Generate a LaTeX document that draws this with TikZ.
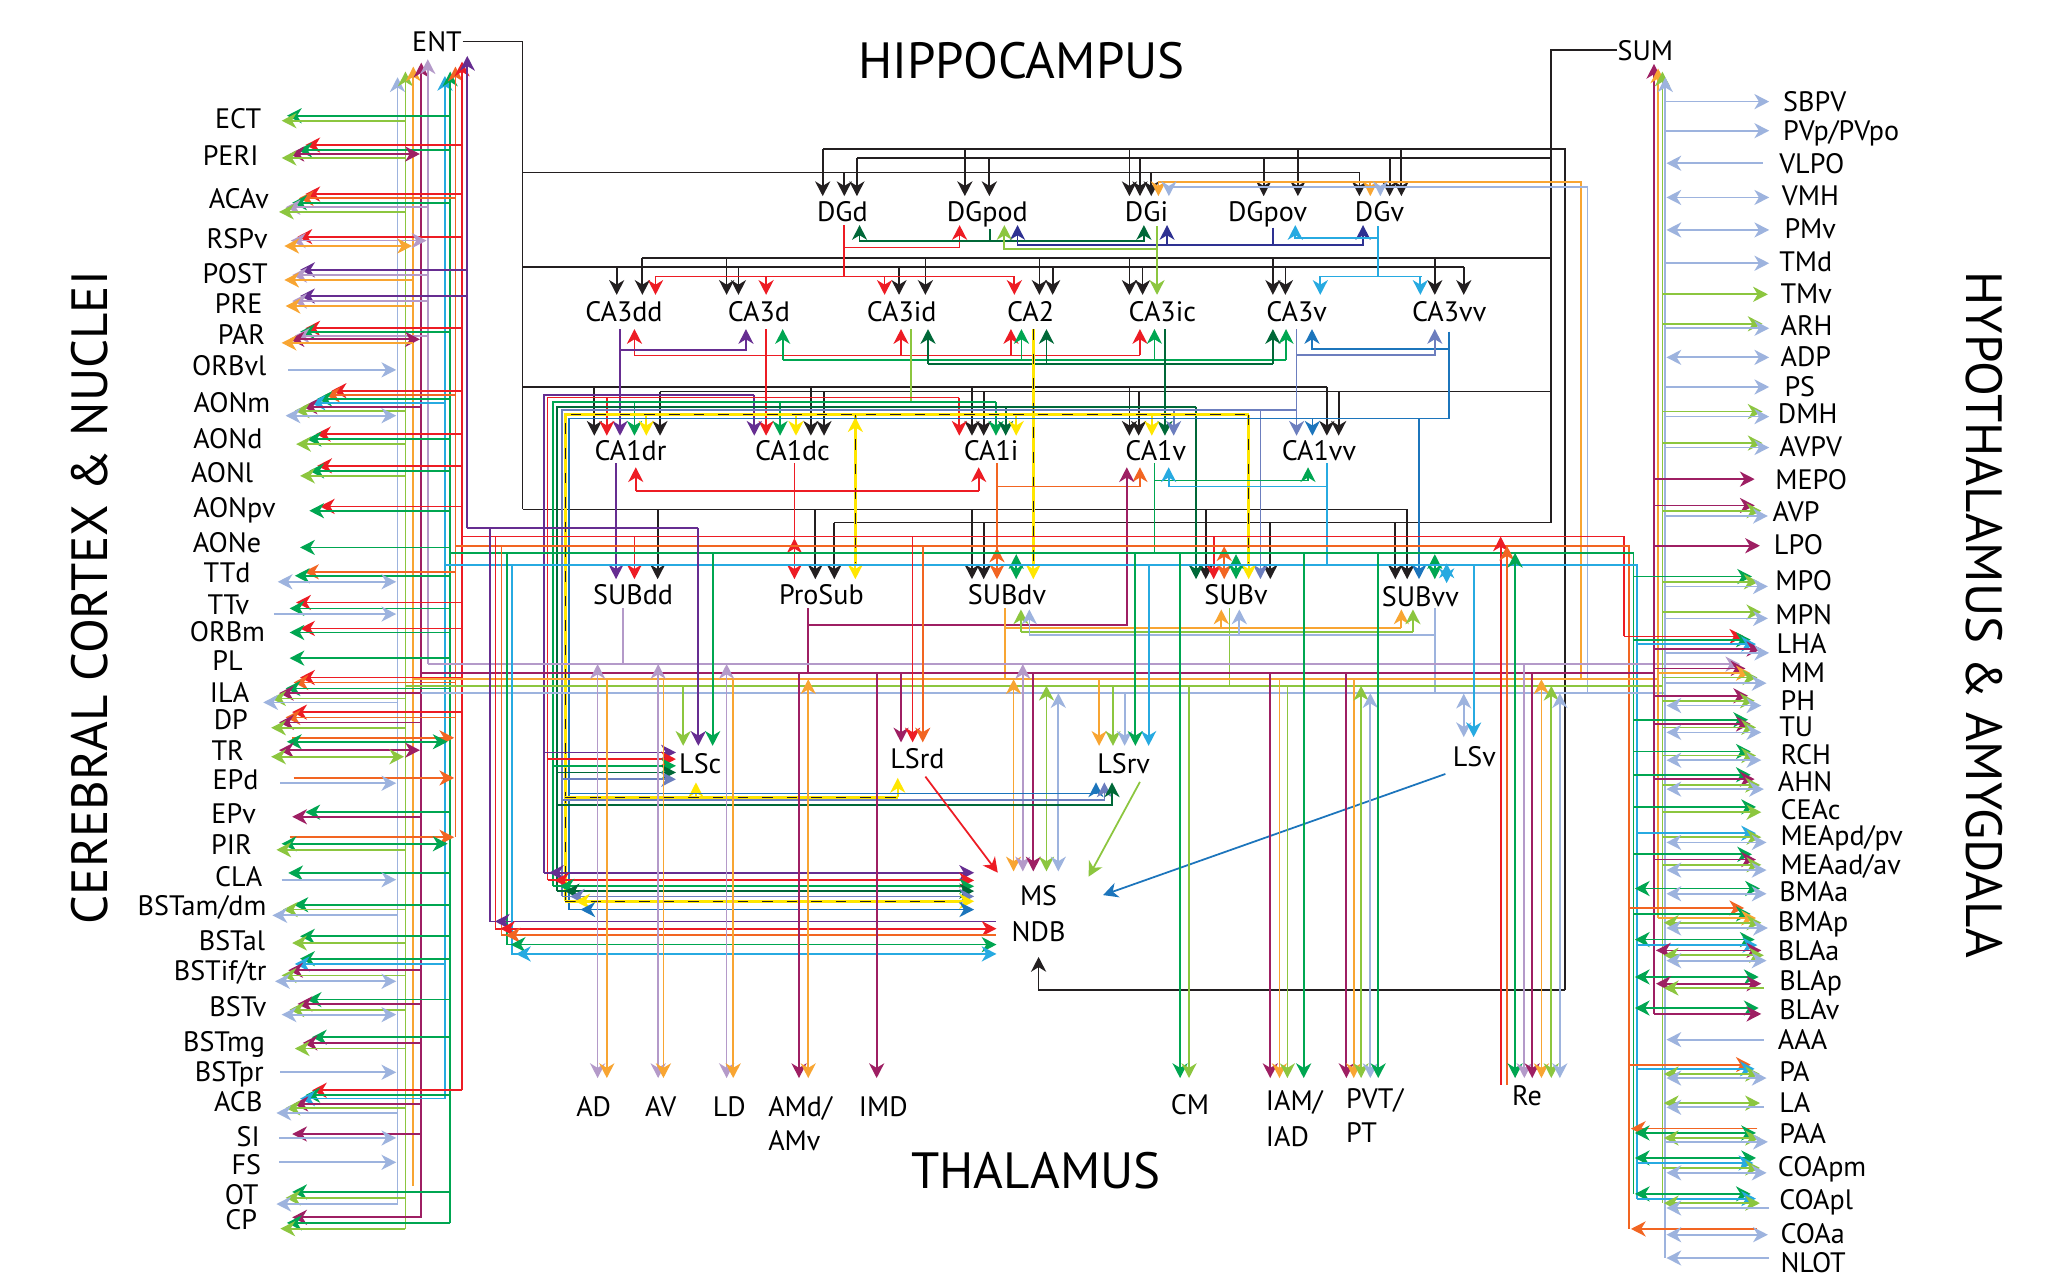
\documentclass[tikz,border=0pt]{standalone}
\usepackage{fontspec}
\setmainfont{PT Sans}
\usetikzlibrary{arrows.meta}
\definecolor{cLB}{HTML}{9DB3DE}
\definecolor{cLG}{HTML}{8CC63F}
\definecolor{cOR}{HTML}{F8A532}
\definecolor{cMG}{HTML}{9E1F63}
\definecolor{cLV}{HTML}{B49AC9}
\definecolor{cCY}{HTML}{27AAE1}
\definecolor{cGR}{HTML}{00A651}
\definecolor{cOE}{HTML}{F26522}
\definecolor{cRD}{HTML}{ED1C24}
\definecolor{cPU}{HTML}{662D91}
\definecolor{cDG}{HTML}{006838}
\definecolor{cNV}{HTML}{2E3192}
\definecolor{cBL}{HTML}{1C75BC}
\definecolor{cSB}{HTML}{6C7EBE}
\definecolor{cYE}{HTML}{FFE600}
\definecolor{cBK}{HTML}{231F20}
\newcommand\HA[4]{\draw[#1,->] (#2,#3) -- (#4,#3);}
\newcommand\HB[4]{\draw[#1,<->] (#2,#3) -- (#4,#3);}
\newcommand\VA[4]{\draw[#1,->] (#2,#3) -- (#2,#4);}
\newcommand\VB[4]{\draw[#1,<->] (#2,#3) -- (#2,#4);}
\newcommand\VN[4]{\draw[#1] (#2,#3) -- (#2,#4);}
\newcommand\YD[1]{\draw[cYE,line width=0.9pt] #1; \draw[cBK,line width=0.4pt,dash pattern=on 3pt off 4pt] #1;}
\newcommand\LL[4]{\node[lab,anchor=base east] (#1) at (#3,#4) {#2};}
\newcommand\RL[4]{\node[lab,anchor=base west] (#1) at (#3,#4) {#2};}
\newcommand\CL[4]{\node[lab,anchor=base] (#1) at (#3,#4) {#2};}
\begin{document}
\begin{tikzpicture}[x=0.013163cm,y=-0.013163cm,line width=0.5pt,
  >={Stealth[length=4.2pt,width=4.3pt,inset=1.3pt]},
  lab/.style={font=\fontsize{8}{9}\selectfont,inner sep=0pt},
  ttl/.style={font=\fontsize{14.5}{16}\selectfont,inner sep=0pt}]
\useasboundingbox[fill=white] (0,0) rectangle (1568,978);

% ---------------- titles
\node[ttl,anchor=base] (hip) at (776,60) {HIPPOCAMPUS};
\node[ttl,anchor=base] (thal) at (787,902.6) {THALAMUS};
\node[ttl,rotate=90] (ctx) at (68,454) {CEREBRAL CORTEX \& NUCLEI};
\node[ttl,rotate=-90] (hyp) at (1507.7,467) {HYPOTHALAMUS \& AMYGDALA};

% ---------------- left labels
\LL{ECT}{ECT}{199}{97.5}
\LL{PERI}{PERI}{197}{125.5}
\LL{ACAv}{ACAv}{205}{158.5}
\LL{RSPv}{RSPv}{204}{188.5}
\LL{POST}{POST}{204}{215}
\LL{PRE}{PRE}{200}{238}
\LL{PAR}{PAR}{202}{262}
\LL{ORBvl}{ORBvl}{203}{285}
\LL{AONm}{AONm}{206}{313}
\LL{AONd}{AONd}{200}{340.5}
\LL{AONl}{AONl}{193}{366.3}
\LL{AONpv}{AONpv}{210}{393.5}
\LL{AONe}{AONe}{199}{420}
\LL{TTd}{TTd}{191}{442.3}
\LL{TTv}{TTv}{190}{466.8}
\LL{ORBm}{ORBm}{202}{487.7}
\LL{PL}{PL}{185}{509.5}
\LL{ILA}{ILA}{190}{533.8}
\LL{DP}{DP}{189}{554.3}
\LL{TR}{TR}{186}{578}
\LL{EPd}{EPd}{197}{600}
\LL{EPv}{EPv}{195}{625.7}
\LL{PIR}{PIR}{192}{648.8}
\LL{CLA}{CLA}{200}{673.5}
\LL{BSTam}{BSTam/dm}{203}{695.5}
\LL{BSTal}{BSTal}{202}{722}
\LL{BSTif}{BSTif/tr}{203}{745}
\LL{BSTv}{BSTv}{203}{772.5}
\LL{BSTmg}{BSTmg}{202}{799}
\LL{BSTpr}{BSTpr}{201}{821.5}
\LL{ACB}{ACB}{200}{844.2}
\LL{SI}{SI}{198}{871}
\LL{FS}{FS}{199}{892.5}
\LL{OT}{OT}{197}{915}
\LL{CP}{CP}{196}{934}

% ---------------- right labels
\RL{SBPV}{SBPV}{1354}{84.5}
\RL{PVp}{PVp/PVpo}{1354}{106.5}
\RL{VLPO}{VLPO}{1351}{131.5}
\RL{VMH}{VMH}{1353}{156.5}
\RL{PMv}{PMv}{1355}{181.5}
\RL{TMd}{TMd}{1351}{206.5}
\RL{TMv}{TMv}{1352}{230.5}
\RL{ARH}{ARH}{1352}{255}
\RL{ADP}{ADP}{1352}{278.5}
\RL{PS}{PS}{1355}{301.5}
\RL{DMH}{DMH}{1350}{321.5}
\RL{AVPV}{AVPV}{1351}{346.5}
\RL{MEPO}{MEPO}{1348}{371.5}
\RL{AVP}{AVP}{1346}{396.5}
\RL{LPO}{LPO}{1347}{421.5}
\RL{MPO}{MPO}{1348}{448.5}
\RL{MPN}{MPN}{1348}{474.5}
\RL{LHA}{LHA}{1349}{496.5}
\RL{MM}{MM}{1352}{518.5}
\RL{PH}{PH}{1352}{540}
\RL{TU}{TU}{1351}{559.5}
\RL{RCH}{RCH}{1352}{581}
\RL{AHN}{AHN}{1350}{601.5}
\RL{CEAc}{CEAc}{1352}{622.5}
\RL{MEApd}{MEApd/pv}{1352}{642.5}
\RL{MEAad}{MEAad/av}{1352}{664.5}
\RL{BMAa}{BMAa}{1351}{684.5}
\RL{BMAp}{BMAp}{1350}{707.5}
\RL{BLAa}{BLAa}{1350}{729.5}
\RL{BLAp}{BLAp}{1351}{752.5}
\RL{BLAv}{BLAv}{1351}{774.5}
\RL{AAA}{AAA}{1350}{797.5}
\RL{PA}{PA}{1351}{821.5}
\RL{LA}{LA}{1351}{845.5}
\RL{PAA}{PAA}{1351}{868.5}
\RL{COApm}{COApm}{1350}{893.5}
\RL{COApl}{COApl}{1351}{919}
\RL{COAa}{COAa}{1352}{944.5}
\RL{NLOT}{NLOT}{1352}{967}

% ---------------- hippocampal / septal / thalamic labels
\CL{ENT}{ENT}{332}{39}
\CL{SUM}{SUM}{1250}{45.6}
\CL{DGd}{DGd}{640}{168}
\CL{DGpod}{DGpod}{750}{168}
\CL{DGi}{DGi}{871}{168}
\CL{DGpov}{DGpov}{963}{168}
\CL{DGv}{DGv}{1048}{168}
\CL{CAtdd}{CA3dd}{474}{244.6}
\CL{CAtd}{CA3d}{576.6}{244.6}
\CL{CAtid}{CA3id}{685}{244.6}
\CL{CAtwo}{CA2}{783}{244.6}
\CL{CAtic}{CA3ic}{883}{244.6}
\CL{CAtv}{CA3v}{985}{244.6}
\CL{CAtvv}{CA3vv}{1101}{244.6}
\CL{CAodr}{CA1dr}{479}{350}
\CL{CAodc}{CA1dc}{602}{350}
\CL{CAoi}{CA1i}{753}{350}
\CL{CAov}{CA1v}{878}{350}
\CL{CAovv}{CA1vv}{1002}{350}
\CL{SUBdd}{SUBdd}{481}{459}
\CL{ProSub}{ProSub}{624}{459}
\CL{SUBdv}{SUBdv}{765}{459}
\CL{SUBv}{SUBv}{939}{459}
\CL{SUBvv}{SUBvv}{1079}{461}
\CL{LSc}{LSc}{532}{588}
\CL{LSrd}{LSrd}{697}{584}
\CL{LSrv}{LSrv}{853.6}{588}
\CL{LSv}{LSv}{1120}{582}
\CL{MS}{MS}{789}{688}
\CL{NDB}{NDB}{789}{715}
\CL{AD}{AD}{451}{848}
\CL{AV}{AV}{502}{848}
\CL{LD}{LD}{554}{848}
\node[lab,anchor=base west] (AMd) at (583,848) {AMd/};
\node[lab,anchor=base west] (AMv) at (583,874) {AMv};
\CL{IMD}{IMD}{671}{848}
\CL{CM}{CM}{904}{847}
\node[lab,anchor=base west] (IAM) at (961,844) {IAM/};
\node[lab,anchor=base west] (IAD) at (961,871) {IAD};
\node[lab,anchor=base west] (PVT) at (1022,842) {PVT/};
\node[lab,anchor=base west] (PT) at (1022,868) {PT};
\CL{Re}{Re}{1160}{840}

% ---------------- black ENT / SUM wiring
\draw[cBK] (ENT.east) -| (397,387);
\draw[cBK] (397,131) -- (1032.7,131);
\VA{cBK}{641.4}{131}{149} \VA{cBK}{874.6}{131}{149} \VA{cBK}{1032.7}{131}{149}
\draw[cBK] (397,203) -- (1112,203);
\VA{cBK}{468.5}{203}{224} \VA{cBK}{561}{203}{224} \VA{cBK}{683}{203}{224} \VA{cBK}{799.7}{203}{224}
\VA{cBK}{868}{203}{224} \VA{cBK}{976.5}{203}{224} \VA{cBK}{1112}{203}{224}
\draw[cBK] (397,294) -- (1008,294);
\VA{cBK}{451.5}{294}{331} \VA{cBK}{616}{294}{331} \VA{cBK}{738.4}{294}{331} \VA{cBK}{858}{294}{331} \VA{cBK}{1008}{294}{331}
\draw[cBK] (397,387) -- (1069,387);
\VA{cBK}{499.6}{387}{440} \VA{cBK}{619.4}{387}{440} \VA{cBK}{738.4}{387}{440} \VA{cBK}{916}{387}{440} \VA{cBK}{1069}{387}{440}
\draw[cBK] (SUM.west) -| (1178,397);
\draw[cBK] (1178,120) -- (651,120);
\VA{cBK}{651}{120}{149} \VA{cBK}{751.6}{120}{149} \VA{cBK}{866}{120}{149} \VA{cBK}{960}{120}{149} \VA{cBK}{1055.7}{120}{149}
\draw[cBK] (1189,752) -- (1189,113) -- (625,113);
\VA{cBK}{625}{113}{149} \VA{cBK}{733}{113}{149} \VA{cBK}{858}{113}{149} \VA{cBK}{986}{113}{149} \VA{cBK}{1064.6}{113}{149}
\draw[cBK] (1178,196) -- (488,196);
\VA{cBK}{488}{196}{224} \VA{cBK}{552}{196}{224} \VA{cBK}{703}{196}{224} \VA{cBK}{789.6}{196}{224}
\VA{cBK}{858}{196}{224} \VA{cBK}{967}{196}{224} \VA{cBK}{1090}{196}{224}
\draw[cBK] (1178,297.5) -- (501.4,297.5);
\VA{cBK}{501.4}{297.5}{331} \VA{cBK}{626}{297.5}{331} \VA{cBK}{747.3}{297.5}{331} \VA{cBK}{865}{297.5}{331} \VA{cBK}{1017}{297.5}{331}
\draw[cBK] (1178,397) -- (633.8,397);
\VA{cBK}{633.8}{397}{440} \VA{cBK}{747.3}{397}{440} \VA{cBK}{965}{397}{440} \VA{cBK}{1060}{397}{440}
\draw[cBK,->] (1189,752) -- (789,752) -- (NDB.south |- 0,727);

% ---------------- dentate gyrus
\draw[cRD] (641,171) -- (641,210);
\draw[cRD,->] (641,188) -| (729,171);
\draw[cRD] (498,210) -- (770.6,210);
\VA{cRD}{498}{210}{224} \VA{cRD}{582}{210}{224} \VA{cRD}{672}{210}{224} \VA{cRD}{770.6}{210}{224}
\draw[cDG] (752,174) -- (752,183);
\draw[cDG,->] (752,183) -| (653,171);
\draw[cDG,->] (752,183) -| (869,171);
\draw[cNV] (967,173) -- (967,186);
\draw[cNV,->] (967,186) -| (773,171);
\draw[cNV,->] (967,186) -| (886.6,171);
\draw[cNV,->] (967,186) -| (1035.5,171);
\draw[cLG,->] (879,172) -- (879,224);
\draw[cLG,->] (879,189) -| (763,171);
\draw[cCY] (1047,172) -- (1047,210);
\draw[cCY,->] (1047,181) -| (984,171);
\draw[cCY] (1003,210) -- (1080,210);
\VA{cCY}{1003}{210}{224} \VA{cCY}{1079}{210}{224}
\draw[cOR] (880,138) -- (1201,138) -- (1201,516);
\VA{cOR}{880}{138}{149} \VA{cOR}{1041}{138}{149}
\draw[cLB] (888,141.8) -- (1206,141.8) -- (1206,526.6);
\VA{cLB}{888}{141.8}{149} \VA{cLB}{1048.6}{141.8}{149}

% ---------------- CA3 outputs
\draw[cRD] (482,270) -- (866,270);
\VA{cRD}{482}{270}{250} \VA{cRD}{684.5}{270}{250} \VA{cRD}{768}{270}{250} \VA{cRD}{866}{270}{250}
\draw[cPU,->] (471,250) -- (471,331);
\draw[cPU,->] (471,266) -| (566.7,250);
\draw[cGR] (594.6,273.5) -- (977,273.5);
\VA{cGR}{594.6}{273.5}{250} \VA{cGR}{776}{273.5}{250} \VA{cGR}{877}{273.5}{250} \VA{cGR}{977}{273.5}{250}
\draw[cDG] (885,250) -- (885,309);
\draw[cDG] (705,276.5) -- (967,276.5);
\VA{cDG}{705}{276.5}{250} \VA{cDG}{795}{276.5}{250} \VA{cDG}{967}{276.5}{250}
\VN{cLG}{692}{250}{305.6}
\draw[cBL] (1100.5,252) -- (1100.5,318);
\draw[cBL,->] (1100.5,265) -| (996.7,250);
\draw[cSB,->] (985,250) -- (985,331);
\draw[cSB,->] (985,269.7) -| (1090,250);
\draw[cRD,->] (582,250) -- (582,331);
\YD{(785,250) -- (785,430)}
\draw[cYE,->] (785,428) -- (785,440);

% ---------------- CA1 inputs (bundle)
\draw[cPU] (413.5,663) -- (413.5,300) -- (573,300);
\VA{cPU}{573}{300}{331}
\draw[cRD] (416,668.8) -- (416,302) -- (728.8,302);
\VA{cRD}{461}{302}{331} \VA{cRD}{728.8}{302}{331}
\draw[cGR] (420,673.3) -- (420,305.6) -- (756.6,305.6);
\VA{cGR}{482}{305.6}{331} \VA{cGR}{592.6}{305.6}{331} \VA{cGR}{756.6}{305.6}{331}
\draw[cDG] (423,677) -- (423,309) -- (908.6,309);
\VA{cDG}{764}{309}{331} \VA{cDG}{885}{309}{331} \VA{cDG}{908.6}{309}{440}
\draw[cSB] (427,681) -- (427,311.5) -- (985,311.5);
\VA{cSB}{891.6}{311.5}{331} \VA{cSB}{957.5}{311.5}{440}
\YD{(429.5,684.7) -- (429.5,315) -- (948.6,315)}
\VA{cYE}{491}{315}{331} \VA{cYE}{604.7}{315}{331} \VA{cYE}{772}{315}{331} \VA{cYE}{875}{315}{331}
\YD{(649.8,315) -- (649.8,430)}
\draw[cYE,->] (649.8,428) -- (649.8,440);
\draw[cYE,->] (649.8,330) -- (649.8,317);
\YD{(948.6,315) -- (948.6,430)}
\draw[cYE,->] (948.6,428) -- (948.6,440);
\draw[cBL] (432,691) -- (432,318) -- (1100.5,318);
\VA{cBL}{997}{318}{331} \VA{cBL}{1078}{318}{440}

% ---------------- CA1 outputs
\draw[cRD] (483,372.8) -- (743.5,372.8);
\VA{cRD}{483}{372.8}{355} \VA{cRD}{743.5}{372.8}{355}
\draw[cPU,->] (468,352) -- (468,440);
\draw[cRD,->] (603.5,352) -- (603.5,440);
\draw[cRD,->] (603.5,425) -- (603.5,409);
\draw[cOE,->] (757.4,352) -- (757.4,440);
\draw[cOE,->] (757.4,369.6) -| (866,355);
\draw[cOE,->] (757.4,430) -- (757.4,416);
\draw[cMG] (613.6,462) -- (613.6,511);
\draw[cMG,->] (613.6,475) -| (856,355);
\draw[cGR] (877,352) -- (877,420);
\draw[cGR,->] (877,365) -| (993.7,355);
\draw[cCY] (1008,352) -- (1008,429);
\draw[cCY,->] (1008,369.6) -| (887.8,355);

% ---------------- subiculum inputs from bands
\VA{cRD}{482}{407.6}{440}
\VB{cGR}{772}{421}{440}
\VA{cRD}{922}{407.6}{440}
\VB{cOE}{930}{415}{440}
\VB{cGR}{939}{421}{440}
\VB{cGR}{1090}{421}{440}
\VB{cCY}{1099}{428}{443}

% ---------------- subiculum outputs
\VN{cLV}{473}{462}{504.5}
\VN{cOR}{763.7}{462}{516}
\draw[cOR] (763.7,477) -- (1064.6,477);
\VA{cOR}{927.8}{477}{463} \VA{cOR}{1064.6}{477}{463}
\draw[cLG] (934,462) -- (934,521);
\draw[cLG] (775.6,480) -- (1073.4,480);
\VA{cLG}{775.6}{480}{463} \VA{cLG}{1073.4}{480}{463}
\draw[cLB] (1090,462) -- (1090,526.6);
\draw[cLB] (782,482.5) -- (1090,482.5);
\VA{cLB}{782}{482.5}{463} \VA{cLB}{941.5}{482.5}{463}

% ---------------- left cortical buses
\draw[cLB,<-] (302,58.7) -- (302,915);
\draw[cLG,<-] (308,54.4) -- (308,934);
\draw[cOR,<-] (314,50.6) -- (314,901);
\draw[cMG,<-] (320,47.6) -- (320,925);
\draw[cLV,<-] (325,45) -- (325,504.5);
\draw[cCY,<-] (338,57.7) -- (338,834.6);
\draw[cGR,<-] (342,54.4) -- (342,929);
\draw[cOE,<-] (346,50.6) -- (346,636);
\draw[cRD,<-] (351,46.8) -- (351,828.3);
\draw[cPU,<-] (355,42.5) -- (355,401);

% ---------------- horizontal bands
\draw[cPU] (355,401) -- (530.5,401);
\draw[cRD] (351,407.6) -- (1233.7,407.6) -- (1233.7,483.5);
\draw[cOE] (346,414.6) -- (1237.6,414.6) -- (1237.6,933.6);
\draw[cGR] (342,420) -- (1241,420) -- (1241,907);
\draw[cCY] (338,429) -- (1243.5,429) -- (1243.5,910.6);
\draw[cLV,->] (325,504.5) -- (1322,504.5);
\draw[cMG] (320,511) -- (1256.5,511);
\draw[cOR] (314,516) -- (1259.6,516);
\draw[cLG] (308,521) -- (1262.9,521);
\draw[cLB] (302,526.6) -- (1265.1,526.6);

% ---------------- right SUM buses
\draw[cMG,<-] (1256.5,48.6) -- (1256.5,770.3);
\draw[cOR,<-] (1259.6,52) -- (1259.6,697.4);
\draw[cLG,<-] (1262.9,54.4) -- (1262.9,914);
\draw[cLB,<-] (1265.1,58.7) -- (1265.1,955.7);

% ---------------- left label connectors
\HA{cGR}{342}{87.9}{218} \HA{cLG}{308}{91.7}{214}
\HA{cRD}{351}{110.2}{232} \HA{cGR}{342}{114}{226} \HB{cMG}{220}{117}{319} \HA{cLG}{308}{120}{214}
\HA{cRD}{351}{147.4}{232} \HA{cOE}{346}{150.7}{227} \HA{cGR}{342}{154}{222} \HA{cLV}{325}{157.5}{217} \HA{cLG}{308}{161}{212}
\HA{cRD}{351}{179.8}{226} \HB{cLV}{221}{182.8}{324} \HB{cOR}{216}{186.9}{313}
\HA{cPU}{355}{205}{228} \HA{cLV}{325}{209}{222} \HA{cOR}{314}{212.7}{216}
\HA{cPU}{355}{224.9}{228} \HA{cLV}{325}{228.7}{222} \HA{cOR}{314}{232.5}{217}
\HA{cRD}{351}{249.4}{232} \HA{cGR}{342}{252}{228} \HA{cLV}{325}{255}{224} \HB{cMG}{220}{257.8}{319} \HA{cOR}{314}{260.5}{214}
\HA{cLB}{219}{281}{301}
\HA{cRD}{351}{296.8}{252} \HA{cOE}{346}{300}{247} \HA{cGR}{342}{303}{241} \HA{cCY}{338}{306}{236} \HA{cMG}{320}{309}{230} \HA{cLG}{308}{312}{224} \HB{cLB}{217}{315.8}{301}
\HA{cRD}{351}{329.8}{240} \HA{cGR}{342}{333.6}{233} \HA{cLG}{308}{337.4}{225}
\HA{cRD}{351}{353.9}{241} \HA{cGR}{342}{357.7}{235} \HA{cLG}{308}{361.5}{228}
\HA{cRD}{351}{384.7}{243} \HA{cGR}{342}{388}{235}
\HA{cGR}{342}{415.9}{228}
\HA{cOE}{346}{434.4}{231} \HA{cGR}{342}{437.4}{224} \HB{cLB}{211}{442}{301}
\HA{cRD}{351}{457.7}{225} \HA{cGR}{342}{462.2}{220} \HA{cLB}{208}{466.5}{301}
\HA{cRD}{351}{477.4}{228} \HA{cGR}{342}{480.5}{220}
\HA{cGR}{342}{500}{220}
\HA{cRD}{351}{514.7}{228} \HA{cOE}{346}{518.5}{223} \HA{cGR}{342}{523}{217} \HA{cMG}{320}{526.6}{212} \HA{cLG}{308}{530.6}{206} \HA{cLB}{302}{533.6}{200}
\HA{cRD}{351}{541}{222} \HA{cOE}{346}{545}{217} \HA{cMG}{320}{548.8}{212} \HA{cLG}{308}{552.9}{206}
\HA{cOE}{222}{560.5}{345} \HB{cGR}{218}{563.5}{340} \HB{cMG}{212}{569.9}{319} \HB{cLG}{206}{574.9}{307}
\HA{cOE}{223}{591}{345} \HA{cLB}{213}{595}{301}
\HA{cGR}{342}{617}{232} \HA{cMG}{320}{620.5}{222}
\HA{cOE}{220}{636}{345} \HB{cGR}{214}{641}{340} \HA{cLG}{308}{645.6}{210}
\HA{cGR}{342}{663.2}{219} \HA{cLB}{214}{668.3}{301}
\HA{cGR}{342}{687.3}{223} \HA{cLG}{308}{691}{215} \HA{cLB}{302}{695.4}{207}
\HA{cGR}{342}{711.3}{228} \HA{cLG}{308}{716.4}{222}
\HA{cGR}{342}{728.3}{228} \HA{cCY}{338}{732.3}{224} \HA{cMG}{320}{737.1}{219} \HA{cLG}{308}{741}{214} \HB{cLB}{209}{745.5}{301}
\HA{cGR}{342}{759.4}{233} \HA{cMG}{320}{762.7}{226} \HA{cLG}{308}{767}{220} \HB{cLB}{214}{770.8}{301}
\HA{cGR}{342}{788}{237} \HA{cMG}{320}{792.3}{230} \HA{cLG}{308}{796.6}{224}
\HA{cLB}{213}{814.6}{301}
\HA{cRD}{351}{828.3}{237} \HA{cGR}{342}{832}{232} \HA{cCY}{338}{834.6}{228} \HA{cMG}{320}{838.7}{223} \HA{cLG}{308}{841.7}{217} \HA{cLB}{302}{845.5}{210}
\HA{cMG}{320}{861.5}{222} \HA{cLB}{212}{864.5}{301}
\HA{cLB}{212}{883}{301}
\HA{cGR}{342}{905.5}{222} \HA{cLG}{308}{910}{217} \HA{cLB}{302}{914.7}{210}
\HA{cMG}{320}{924.8}{222} \HA{cGR}{342}{929}{218} \HA{cLG}{308}{933.4}{213}

% ---------------- right label connectors
\HA{cLB}{1265.1}{77.2}{1344}
\HA{cLB}{1265.1}{99.3}{1344}
\HA{cLB}{1339}{124}{1266}
\HB{cLB}{1266}{150}{1344}
\HB{cLB}{1266}{174.7}{1344}
\HA{cLB}{1265.1}{200}{1344}
\HA{cLG}{1262.9}{223.6}{1343}
\HA{cLG}{1262.9}{246}{1339} \HA{cLB}{1265.1}{249.4}{1344}
\HB{cLB}{1266}{271.5}{1344}
\HA{cLB}{1265.1}{294}{1344}
\HA{cLG}{1262.9}{312.7}{1339} \HA{cLB}{1265.1}{316.5}{1344}
\HA{cLG}{1262.9}{336.6}{1339} \HA{cLB}{1265.1}{340}{1344}
\HA{cMG}{1256.5}{364}{1333}
\HA{cMG}{1256.5}{384}{1333} \HA{cLG}{1262.9}{388}{1338} \HA{cLB}{1265.1}{392}{1343}
\HA{cMG}{1256.5}{414.6}{1337}
\HA{cGR}{1241}{438}{1331} \HA{cLG}{1262.9}{442}{1336} \HA{cLB}{1265.1}{445.5}{1343}
\HA{cLG}{1262.9}{465}{1338} \HA{cLB}{1265.1}{469.8}{1343}
\HA{cRD}{1233.7}{483.5}{1325} \HA{cGR}{1241}{486}{1330} \HA{cCY}{1243.5}{489.3}{1334} \HA{cMG}{1256.5}{493}{1338} \HA{cLB}{1265.1}{496}{1344}
\HA{cMG}{1256.5}{507.8}{1326} \HA{cOR}{1259.6}{511.4}{1330} \HA{cLG}{1262.9}{514.7}{1335} \HA{cLB}{1265.1}{519}{1342}
\HA{cMG}{1256.5}{528.6}{1328} \HA{cLG}{1262.9}{532.4}{1333} \HB{cLB}{1266}{536}{1338}
\HA{cGR}{1241}{546.8}{1328} \HA{cMG}{1256.5}{550}{1330} \HA{cLG}{1262.9}{552.6}{1334} \HB{cLB}{1266}{556.4}{1338}
\HA{cGR}{1241}{570.9}{1330} \HA{cLG}{1262.9}{574}{1334} \HB{cLB}{1266}{577.5}{1338}
\HA{cGR}{1241}{588.6}{1330} \HA{cMG}{1256.5}{591.9}{1333} \HA{cLG}{1262.9}{596.4}{1337} \HB{cLB}{1266}{599.5}{1340}
\HA{cGR}{1241}{613}{1334} \HA{cLG}{1262.9}{617}{1338}
\HA{cCY}{1243.5}{633}{1334} \HA{cLG}{1262.9}{636}{1338} \HB{cLB}{1266}{640}{1342}
\HA{cGR}{1241}{649}{1331} \HA{cMG}{1256.5}{653}{1334} \HA{cLG}{1262.9}{657}{1338} \HB{cLB}{1266}{661}{1342}
\HB{cGR}{1242}{675}{1337} \HB{cLB}{1266}{679}{1342}
\HA{cOE}{1237.6}{689.8}{1325} \HA{cGR}{1241}{694.3}{1330} \HA{cOR}{1259.6}{697.4}{1334} \HB{cLG}{1264}{701}{1338} \HB{cLB}{1266}{705}{1343}
\HB{cGR}{1242}{713.8}{1333} \HA{cCY}{1243.5}{718}{1335} \HB{cMG}{1258}{722}{1338} \HB{cLG}{1264}{725.7}{1340} \HB{cLB}{1266}{729.8}{1342}
\HB{cGR}{1242}{742.2}{1336} \HB{cMG}{1258}{747.3}{1338} \HA{cLG}{1340}{750.6}{1264}
\HB{cGR}{1242}{765.8}{1336} \HA{cMG}{1256.5}{770.3}{1338}
\HA{cLB}{1340}{789.8}{1266}
\HA{cOE}{1237.6}{808.8}{1330} \HA{cCY}{1243.5}{812}{1333} \HB{cLG}{1264}{815.9}{1337} \HB{cLB}{1266}{819}{1342}
\HB{cLG}{1264}{838}{1337} \HA{cLB}{1340}{841.2}{1266}
\HA{cOE}{1335}{857.4}{1239} \HB{cGR}{1242}{860.7}{1334} \HB{cLG}{1264}{864.5}{1337} \HA{cLB}{1265.1}{867.5}{1343}
\HB{cGR}{1242}{879.7}{1334} \HA{cCY}{1243.5}{883.5}{1332} \HA{cLG}{1262.9}{887.3}{1337} \HB{cLB}{1266}{891}{1342}
\HB{cGR}{1242}{907}{1330} \HA{cCY}{1243.5}{910.6}{1334} \HB{cLG}{1264}{914}{1337} \HA{cLB}{1344}{917.7}{1266}
\HA{cOE}{1335}{933.6}{1239} \HB{cLB}{1266}{938}{1343}
\HA{cLB}{1344}{955.7}{1266}

% ---------------- NDB group
\draw[cPU] (372,401) -- (372,700) -- (757,700);
\draw[cRD,->] (376.5,407.6) -- (376.5,705.5) -- (757,705.5);
\draw[cOE] (381,414.6) -- (381,710.5) -- (757,710.5);
\draw[cGR,->] (385,420) -- (385,717.6) -- (757,717.6);
\draw[cCY,->] (389,429) -- (389,724.7) -- (757,724.7);
\HA{cPU}{388}{700}{376} \HA{cRD}{392}{705.5}{380} \HA{cOE}{396}{710.5}{384} \HA{cGR}{400}{717.6}{388} \HA{cCY}{404}{724.7}{392}

% ---------------- MS group
\HA{cPU}{413.5}{663}{740} \HA{cRD}{416}{668.8}{740} \HA{cGR}{420}{673.3}{740}
\HA{cDG}{423}{677}{740} \HA{cSB}{427}{681}{740}
\YD{(429.5,684.7) -- (730,684.7)}
\HA{cYE}{728}{684.7}{740}
\HA{cBL}{432}{691}{740}
\HA{cPU}{429}{663}{417} \HA{cRD}{433}{668.8}{421} \HA{cGR}{437}{673.3}{425} \HA{cDG}{441}{677}{429}
\HA{cSB}{445}{681}{433} \HA{cYE}{449}{684.7}{437} \HA{cBL}{453}{691}{441}
\VB{cOR}{770}{516}{662} \VB{cLV}{777}{504.5}{662} \VA{cMG}{785}{511}{662} \VB{cLG}{795}{521}{662} \VB{cLB}{804}{526.6}{662}

% ---------------- lateral septum
\VA{cLG}{519}{521}{566.6} \VA{cPU}{530.5}{401}{566.6} \VA{cGR}{541.4}{420}{566.6}
\HA{cPU}{413.5}{571.6}{513.5} \HA{cRD}{416}{576.7}{513.5} \HA{cGR}{420}{581.8}{513.5} \HA{cDG}{423}{586.8}{513.5} \HA{cSB}{427}{592}{513.5}
\YD{(429.5,605.8) -- (682,605.8)}
\draw[cYE,->] (528.7,605.8) -- (528.7,594.4);
\draw[cYE,->] (682,605.8) -- (682,591);
\draw[cBL,->] (432,602.8) -| (832.6,594.4);
\draw[cSB,->] (427,608) -| (839,594.4);
\draw[cDG,->] (423,611.4) -| (844.8,594.4);
\VA{cMG}{684.5}{511}{564} \VA{cRD}{693.3}{407.6}{564} \VA{cOE}{701}{414.6}{564}
\VA{cOR}{835}{516}{566.6} \VA{cLG}{845.5}{521}{566.6} \VA{cLB}{854.4}{526.6}{566.6} \VA{cGR}{862.5}{420}{566.6} \VA{cCY}{872.6}{429}{566.6}
\VB{cLB}{1112}{527}{560} \VA{cCY}{1119.5}{429}{560}
\draw[cRD,->] (703,590) -- (758,663);
\draw[cLG,->] (866,594) -- (827,666);
\draw[cBL,->] (1098,588) -- (838,680);

% ---------------- thalamus
\VB{cLV}{454}{504.5}{819} \VA{cOR}{461}{516}{819}
\VB{cLV}{500}{504.5}{819} \VA{cOR}{504}{516}{819}
\VB{cLV}{552}{504.5}{819} \VA{cOR}{557}{516}{819}
\VA{cMG}{607}{511}{819} \VB{cOR}{614}{516}{819}
\VA{cMG}{666}{511}{819}
\VA{cGR}{896.5}{420}{819} \VA{cLG}{903.3}{521}{819}
\VA{cMG}{965}{511}{819} \VA{cOR}{972}{516}{819} \VA{cLG}{978}{521}{819} \VA{cGR}{990.4}{420}{819}
\VA{cMG}{1022.8}{511}{819} \VA{cOR}{1028.4}{516}{819} \VB{cLG}{1034}{521}{819} \VB{cLB}{1041}{526.6}{819} \VA{cGR}{1047}{420}{819}
\draw[cRD,<-] (1140,407.6) -- (1140,824);
\draw[cOE,<-] (1144.8,414.6) -- (1144.8,824);
\VB{cGR}{1151}{420}{819} \VA{cLV}{1158}{504.5}{819} \VA{cMG}{1164}{511}{819}
\VB{cOR}{1171}{516}{819} \VB{cLG}{1178.5}{521}{819} \VB{cLB}{1185}{526.6}{819}
\end{tikzpicture}
\end{document}
